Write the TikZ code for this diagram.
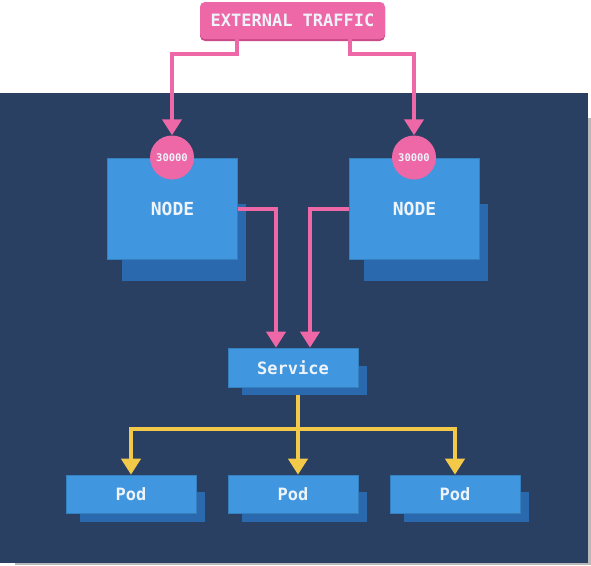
\documentclass[tikz,border=0pt]{standalone}
\usepackage{fontspec}
\setmonofont{DejaVu Sans Mono}
\usepackage{tikz}
\usetikzlibrary{arrows.meta}
\usetikzlibrary{calc}

\definecolor{navy}{HTML}{2A4062}
\definecolor{boxfront}{HTML}{4096DF}
\definecolor{boxback}{HTML}{2B69AE}
\definecolor{trafficpink}{HTML}{EE67A6}
\definecolor{pinkdark}{HTML}{C84A86}
\definecolor{podyellow}{HTML}{F3C94A}
\definecolor{labelwhite}{HTML}{EEF4FA}

\tikzset{
  front/.style={fill=boxfront,draw=boxfront!85!black,line width=0.6pt,inner sep=0pt,
    text=labelwhite,font=\ttfamily\bfseries\fontsize{17}{19}\selectfont},
  back/.style={fill=boxback,inner sep=0pt},
  port/.style={circle,fill=trafficpink,minimum size=44pt,inner sep=0pt,
    text=labelwhite,font=\ttfamily\bfseries\fontsize{10.5}{12}\selectfont},
  pinkarrow/.style={draw=trafficpink,line width=4pt,-{Triangle[width=19pt,length=16pt]}},
  yellowarrow/.style={draw=podyellow,line width=4pt,-{Triangle[width=19pt,length=16pt]}}
}

\begin{document}
\begin{tikzpicture}[x=1pt,y=-1pt]
\useasboundingbox (0,0) rectangle (591,565);
% Draw the backdrop of the cluster
\fill[gray!55] (15,118) rectangle (591,565);
\fill[navy] (0,93) rectangle (588,563);

% Draw the nodes used for the picture
\node[fill=pinkdark,rounded corners=5pt,minimum width=185pt,minimum height=38pt](trafficshade) at (292.5,22){};
\node[fill=trafficpink,rounded corners=5pt,minimum width=185pt,minimum height=37pt,inner sep=0pt,
  text=labelwhite,font=\ttfamily\bfseries\fontsize{17}{19}\selectfont](traffic) at (292.5,20.5){EXTERNAL TRAFFIC};

\node[back,minimum width=124pt,minimum height=77pt](nodeLback) at (184,242.5){};
\node[front,minimum width=130pt,minimum height=101pt,font=\ttfamily\bfseries\fontsize{18}{20}\selectfont](nodeL) at (172.5,208.5){NODE};
\node[back,minimum width=124pt,minimum height=77pt](nodeRback) at (426,242.5){};
\node[front,minimum width=130pt,minimum height=101pt,font=\ttfamily\bfseries\fontsize{18}{20}\selectfont](nodeR) at (414.5,208.5){NODE};
\node[port](portL) at (172,157.5){30000};
\node[port](portR) at (414,157.5){30000};

\node[back,minimum width=125pt,minimum height=29pt](svcback) at (304.5,380.5){};
\node[front,minimum width=130pt,minimum height=39pt](svc) at (293,367.5){Service};

\node[back,minimum width=125pt,minimum height=30pt](podAback) at (142.5,507){};
\node[front,minimum width=130pt,minimum height=38pt](podA) at (131,494){Pod};
\node[back,minimum width=125pt,minimum height=30pt](podBback) at (304.5,507){};
\node[front,minimum width=130pt,minimum height=38pt](podB) at (293,494){Pod};
\node[back,minimum width=125pt,minimum height=30pt](podCback) at (466.5,507){};
\node[front,minimum width=130pt,minimum height=38pt](podC) at (455,494){Pod};
\coordinate(split) at (298,429);

% Draw the edges between the nodes
\draw[pinkarrow] ([xshift=37pt]traffic.south west) -- ++(0,15) -| (portL.north);
\draw[pinkarrow] ([xshift=-35pt]traffic.south east) -- ++(0,15) -| (portR.north);
\draw[pinkarrow] (nodeL.east) -| ([xshift=-17pt]svc.north);
\draw[pinkarrow] (nodeR.west) -| ([xshift=17pt]svc.north);
\draw[podyellow,line width=4pt] (svcback.south -| split) -- (split);
\draw[podyellow,line width=4pt] ([xshift=-2pt]split -| podA) -- ([xshift=2pt]split -| podC);
\draw[yellowarrow] ([yshift=2pt]split -| podA) -- (podA.north);
\draw[yellowarrow] ([yshift=2pt]split) -- (podB.north -| split);
\draw[yellowarrow] ([yshift=2pt]split -| podC) -- (podC.north);
\end{tikzpicture}
\end{document}
